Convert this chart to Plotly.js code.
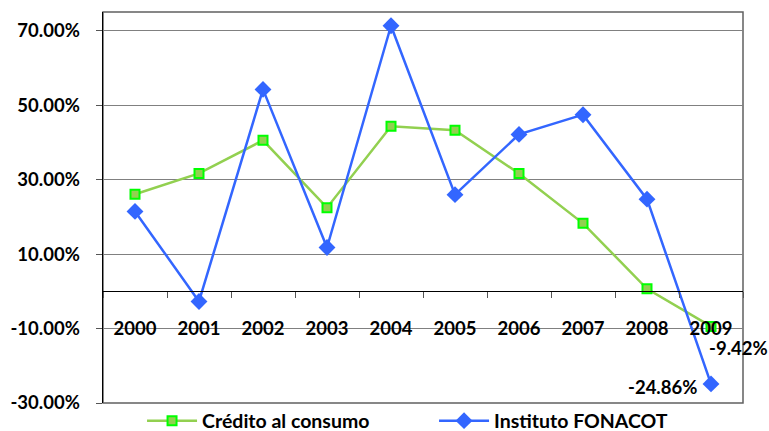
<!DOCTYPE html>
<html>
<head>
<meta charset="utf-8">
<script src="https://cdn.plot.ly/plotly-3.0.1.min.js"></script>
<style>html,body{margin:0;padding:0;background:#fff}#chart{width:769px;height:431px}</style>
</head>
<body>
<div id="chart"></div>
<script>
var years = ['2000','2001','2002','2003','2004','2005','2006','2007','2008','2009'];
var credito = [26.1, 31.7, 40.6, 22.5, 44.4, 43.3, 31.7, 18.3, 0.7, -9.42];
var fonacot = [21.5, -2.7, 54.3, 11.8, 71.4, 26.0, 42.2, 47.5, 24.8, -24.86];
var yTicks = [70, 50, 30, 10, -10, -30];
var yTickText = ['70.00%', '50.00%', '30.00%', '10.00%', '-10.00%', '-30.00%'];
var nameCredito = 'Crédito al consumo';
var nameFonacot = 'Instituto FONACOT';

var FONT = 'Lato, "Open Sans", sans-serif';
var FS = 18.5;
var yMin = -30, yMax = 75.1;

var traces = [
  {
    x: years, y: credito, name: nameCredito, type: 'scatter', mode: 'lines+markers',
    line: {color: '#92d050', width: 2.5},
    marker: {symbol: 'square', size: 9, color: '#92d050', line: {color: '#00ff00', width: 2}}
  },
  {
    x: years, y: fonacot, name: nameFonacot, type: 'scatter', mode: 'lines+markers',
    line: {color: '#3366ff', width: 2.5},
    marker: {symbol: 'diamond', size: 13, color: '#3366ff', line: {width: 0}}
  }
];

var last = years.length - 1;
var layout = {
  width: 769, height: 431,
  margin: {l: 103, r: 26, t: 12, b: 28, autoexpand: false},
  paper_bgcolor: '#fff', plot_bgcolor: '#fff',
  font: {family: FONT, size: FS, color: '#000', weight: 'bold'},
  showlegend: true,
  legend: {
    orientation: 'h', x: 0.061, xanchor: 'left', y: -0.046, yanchor: 'middle',
    font: {family: FONT, size: 19.5, color: '#000', weight: 'bold'},
    itemwidth: 50, entrywidth: 227, entrywidthmode: 'pixels',
    bgcolor: 'rgba(0,0,0,0)'
  },
  xaxis: {
    type: 'category', range: [-0.5, 9.5],
    anchor: 'free', position: (0 - yMin) / (yMax - yMin),
    showline: true, linecolor: '#000', linewidth: 1,
    ticks: 'outside', tickson: 'boundaries', ticklen: 6, tickcolor: '#555',
    ticklabelstandoff: 20,
    showgrid: false, zeroline: false,
    tickfont: {family: FONT, size: FS, color: '#000', weight: 'bold'}
  },
  yaxis: {
    range: [yMin, yMax], tickvals: yTicks, ticktext: yTickText,
    showline: true, linecolor: '#000', linewidth: 1.5,
    ticks: 'outside', ticklen: 6, tickcolor: '#555',
    ticklabelstandoff: 12,
    showgrid: true, gridcolor: '#808080', gridwidth: 1,
    zeroline: false,
    tickfont: {family: FONT, size: FS, color: '#000', weight: 'bold'}
  },
  shapes: [
    {type: 'rect', xref: 'paper', yref: 'paper', x0: 0, x1: 1, y0: 0, y1: 1,
     line: {color: '#606060', width: 1.5}, layer: 'below'}
  ],
  annotations: [
    {x: last, y: credito[last], xref: 'x', yref: 'y',
     text: credito[last].toFixed(2) + '%', showarrow: false,
     xanchor: 'center', yanchor: 'middle', xshift: 27, yshift: -22,
     font: {family: FONT, size: FS, color: '#000', weight: 'bold'}},
    {x: last, y: fonacot[last], xref: 'x', yref: 'y',
     text: fonacot[last].toFixed(2) + '%', showarrow: false,
     xanchor: 'right', yanchor: 'middle', xshift: -12, yshift: -3,
     font: {family: FONT, size: FS, color: '#000', weight: 'bold'}}
  ]
};

Plotly.newPlot('chart', traces, layout, {displayModeBar: false, staticPlot: true});
</script>
</body>
</html>
